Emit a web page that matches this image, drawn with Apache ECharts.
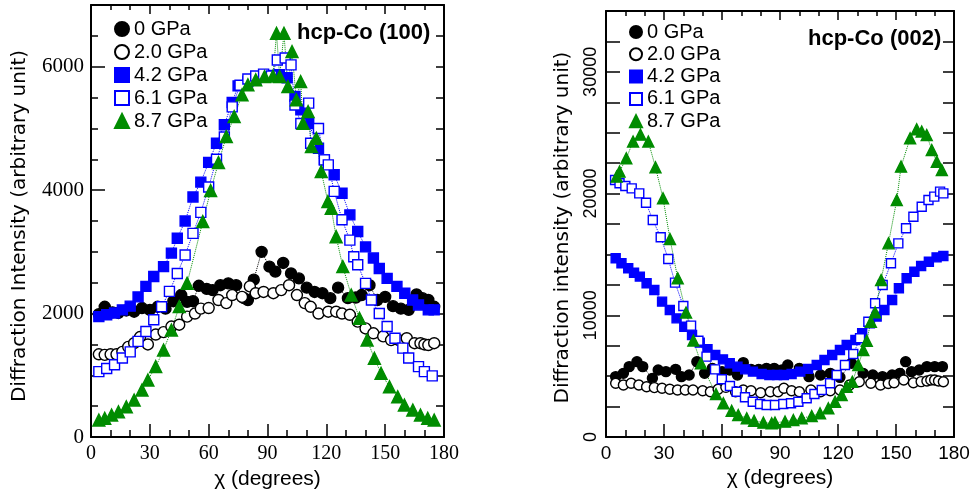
<!DOCTYPE html>
<html>
<head>
<meta charset="utf-8">
<script src="https://cdn.jsdelivr.net/npm/echarts@6/dist/echarts.min.js"></script>
<style>
  html, body { margin: 0; background: #fff; }
  #chart { width: 974px; height: 495px; }
</style>
</head>
<body>
<div id="chart"></div>
<script>
// pressures, shared by both panels
const pressures = ['0 GPa', '2.0 GPa', '4.2 GPa', '6.1 GPa', '8.7 GPa']

// ---- hcp-Co (100), left panel ----
const a0x = [4, 7, 11, 14, 18, 22, 26, 30, 34, 38, 42, 46, 49, 52, 55, 59, 62, 66, 70, 74, 78, 80, 83, 87, 91, 94, 98, 102, 106, 110, 114, 118, 122, 126, 131, 135, 138, 142, 146, 150, 154, 158, 162, 166, 169, 172, 175]
const a0y = [1990, 2110, 2020, 2010, 2050, 2030, 2090, 2060, 2110, 2080, 2200, 2300, 2190, 2200, 2450, 2400, 2380, 2460, 2490, 2460, 2250, 2220, 2550, 3000, 2760, 2680, 2820, 2650, 2570, 2420, 2350, 2330, 2250, 2420, 2250, 2260, 2300, 2460, 2220, 2270, 2120, 2080, 2060, 2310, 2250, 2220, 2110]

const a2x = [4, 7, 10, 13, 16, 19, 22, 25, 29, 33, 37, 41, 45, 49, 53, 56, 60, 65, 69, 72, 77, 81, 84, 88, 93, 97, 101, 105, 109, 112, 116, 121, 125, 128, 132, 136, 140, 144, 149, 153, 157, 161, 165, 168, 170, 172, 175]
const a2y = [1340, 1330, 1340, 1340, 1380, 1460, 1520, 1620, 1500, 1660, 1700, 1790, 1820, 1950, 2000, 2080, 2090, 2220, 2170, 2300, 2270, 2440, 2330, 2350, 2330, 2380, 2460, 2300, 2170, 2110, 2000, 2030, 2030, 2000, 1980, 1870, 1760, 1680, 1630, 1570, 1570, 1600, 1520, 1520, 1500, 1490, 1520]

const a4x = [4, 8, 12, 16, 20, 24, 28, 32, 37, 41, 44, 48, 52, 56, 60, 64, 68, 72, 75, 80, 84, 88, 92, 96, 100, 104, 107, 111, 116, 119, 124, 128, 132, 136, 140, 144, 147, 151, 156, 160, 164, 167, 172, 175]
const a4y = [1950, 1980, 2010, 2060, 2120, 2270, 2440, 2600, 2760, 2980, 3220, 3500, 3890, 4130, 4450, 4760, 5060, 5420, 5690, 5760, 5790, 5840, 5860, 5870, 5820, 5520, 5300, 5080, 4680, 4490, 4250, 3950, 3600, 3330, 3080, 2900, 2730, 2570, 2440, 2330, 2220, 2140, 2060, 2060]

const a6x = [4, 8, 12, 16, 20, 24, 28, 32, 36, 40, 44, 48, 52, 56, 60, 64, 68, 72, 76, 80, 84, 88, 92, 95, 99, 102, 104, 107, 111, 112, 116, 119, 121, 124, 128, 132, 134, 136, 140, 143, 147, 151, 155, 159, 162, 167, 170, 174]
const a6y = [1060, 1110, 1170, 1280, 1380, 1550, 1710, 1900, 2110, 2360, 2650, 2950, 3300, 3640, 4050, 4500, 4860, 5350, 5700, 5800, 5850, 5880, 5850, 6110, 6140, 6030, 5380, 5080, 5410, 4760, 5000, 4490, 4410, 3980, 3520, 3190, 2920, 2790, 2490, 2220, 2000, 1790, 1600, 1440, 1280, 1140, 1060, 990]

const a8x = [4, 7, 10.5, 14, 18, 22, 26, 29, 33, 37, 41, 45, 49, 57, 61, 65, 69, 73, 77, 80, 84, 88.5, 92.8, 94.6, 96.2, 98.4, 100.4, 102.5, 104.7, 106.9, 108.1, 110.7, 112.4, 114.9, 117.4, 120.8, 122.5, 125, 128.4, 132.7, 136.9, 140.8, 144.5, 147.9, 152.2, 156.4, 159.8, 164.1, 168, 171.7, 175]
const a8y = [275, 303, 357, 410, 491, 600, 762, 924, 1140, 1410, 1734, 2112, 2491, 3490, 3992, 4446, 4867, 5191, 5543, 5705, 5786, 5840, 5850, 6540, 5840, 6540, 5677, 6244, 5462, 5759, 5084, 5272, 4705, 4841, 4300, 3814, 3706, 3246, 2760, 2301, 1924, 1572, 1275, 1032, 815, 653, 519, 438, 357, 303, 275]

// ---- hcp-Co (002), right panel ----
const b0x = [5, 9, 12, 16, 19, 24, 27, 31, 36, 39, 43, 47, 51, 55, 60, 64, 68, 71, 75, 79, 83, 87, 91, 94, 100, 105, 111, 116, 121, 127, 133, 138, 143, 148, 152, 155, 158, 162, 166, 170, 174]
const b0y = [4960, 5230, 5780, 6190, 5780, 4820, 5500, 5370, 5560, 4960, 5090, 6190, 5230, 5640, 5370, 5500, 5090, 6110, 5560, 5560, 5640, 5640, 5500, 5920, 5640, 4960, 5090, 5230, 4900, 6060, 5230, 5090, 4960, 5090, 5230, 6190, 5370, 5500, 5780, 5780, 5780]

const b2x = [5, 9, 13, 17, 21, 25, 29, 33, 37, 41, 45, 50, 54, 58, 62, 67, 71, 75, 80, 85, 89, 92, 96, 100, 106, 111, 116, 121, 126, 131, 137, 142, 146, 149, 154, 159, 163, 166, 168, 170, 172, 174.5]
const b2y = [4410, 4270, 4410, 4270, 4130, 4060, 4000, 3920, 3860, 3860, 3860, 3800, 3720, 3920, 4080, 3720, 3860, 3800, 3640, 3720, 3720, 4000, 3800, 3720, 3860, 3720, 3800, 3860, 4270, 4540, 4410, 4270, 4400, 4460, 4680, 4460, 4550, 4600, 4680, 4680, 4600, 4540]

const b4x = [5, 8, 11.5, 14.5, 17.5, 21, 25, 29, 33, 36.5, 40.5, 44.5, 48.5, 52.5, 56.5, 60.5, 64, 68, 72, 76, 80.5, 84.5, 88.5, 92, 96, 100.5, 104.5, 109, 113, 117, 121, 124.5, 129, 132.5, 136.5, 140, 144, 148, 151.5, 155.5, 159.5, 163, 167, 171, 174.5]
const b4y = [14680, 14270, 13860, 13500, 13180, 12630, 12080, 11120, 10440, 9750, 9060, 8380, 7750, 7210, 6740, 6380, 6060, 5780, 5560, 5370, 5180, 5090, 5090, 5090, 5180, 5370, 5600, 5920, 6330, 6740, 7150, 7560, 7970, 8520, 9340, 9890, 10440, 11260, 12220, 13040, 13580, 14050, 14400, 14760, 14870]

const b6x = [4.7, 7, 10, 13.3, 17.2, 20.7, 24.2, 28.3, 32.2, 35.7, 40, 44, 47.8, 52, 56.4, 59.9, 64.1, 67.6, 71.9, 75.9, 79.7, 83.1, 87.4, 91.7, 95.7, 99.5, 103.8, 107.8, 111.6, 115.9, 119.3, 123.6, 127.9, 131.4, 135.7, 139.2, 143.1, 147.4, 151.2, 155.2, 159, 163.3, 166.8, 169.8, 172.8, 174.5]
const b6y = [21120, 20850, 20620, 20430, 20020, 19250, 17830, 16410, 14630, 12680, 10760, 9150, 7910, 6600, 5560, 4740, 4190, 3720, 3260, 2900, 2710, 2630, 2630, 2710, 2770, 2900, 3180, 3530, 3860, 4410, 5090, 5920, 6820, 8110, 9470, 10990, 12490, 14270, 15910, 17150, 18100, 18920, 19470, 19750, 20160, 20020]

const b8x = [5.5, 7, 10.5, 14, 17.8, 21.9, 25.6, 29.5, 33.1, 37.1, 41.4, 45.2, 49.1, 56.9, 60.7, 65, 68.4, 72.8, 76.6, 81.4, 85.7, 87.4, 92.6, 96.9, 101.2, 106.4, 110.7, 115, 118.5, 121.9, 124.5, 127.4, 130.5, 133.1, 134.9, 137, 139.2, 142.3, 146.1, 150.4, 152.6, 157.3, 160.7, 163.3, 165.9, 168.5, 171.1, 173.7]
const b8y = [21390, 21800, 22900, 24270, 24840, 24270, 22160, 19610, 16270, 13040, 10220, 7920, 6060, 3530, 2770, 2160, 1810, 1540, 1340, 1180, 1130, 1180, 1260, 1400, 1540, 1730, 1950, 2360, 2900, 3450, 4130, 4540, 5920, 7150, 7910, 9470, 10250, 12900, 15910, 19470, 22210, 24540, 25280, 25090, 24810, 23580, 22620, 21940]

const panelA = [[a0x, a0y], [a2x, a2y], [a4x, a4y], [a6x, a6y], [a8x, a8y]]
const panelB = [[b0x, b0y], [b2x, b2y], [b4x, b4y], [b6x, b6y], [b8x, b8y]]

// marker look for each pressure
const BLUE = '#0000ff'
const GREEN = '#008c00'
const marks = [
  { symbol: 'circle', fill: '#000', stroke: '#000' },
  { symbol: 'circle', fill: '#fff', stroke: '#000' },
  { symbol: 'rect', fill: BLUE, stroke: BLUE },
  { symbol: 'rect', fill: '#fff', stroke: BLUE },
  { symbol: 'triangle', fill: GREEN, stroke: GREEN }
]

const zip = (xs, ys) => xs.map((x, i) => [x, ys[i]])

function panelSeries(panel, grid, sizes) {
  const lines = []
  const dots = []
  panel.forEach(([xs, ys], i) => {
    const m = marks[i]
    const data = zip(xs, ys)
    lines.push({
      type: 'line', name: pressures[i] + ' line', xAxisIndex: grid * 2, yAxisIndex: grid * 3,
      data, symbol: 'none', silent: true, z: 2,
      lineStyle: { color: m.stroke, width: 1, type: 'dotted' }
    })
    dots.push({
      type: 'scatter', name: pressures[i], xAxisIndex: grid * 2, yAxisIndex: grid * 3,
      data, symbol: m.symbol, symbolSize: sizes[m.symbol], z: 3,
      itemStyle: { color: m.fill, borderColor: m.stroke, borderWidth: 1.4, opacity: 1 }
    })
  })
  return lines.concat(dots)
}

const black = { color: '#000' }
const tickStyle = { color: '#000', width: 1.5 }
const frame = { show: true, onZero: false, lineStyle: { color: '#000', width: 2 } }

function xAxes(grid, font, size) {
  const base = {
    gridIndex: grid, type: 'value', min: 0, max: 180, interval: 30,
    axisLine: frame,
    splitLine: { show: false }
  }
  return [
    {
      ...base, position: 'bottom',
      axisTick: { inside: true, length: 13, lineStyle: tickStyle },
      minorTick: { show: true, splitNumber: 3, length: 7, lineStyle: tickStyle },
      axisLabel: { ...black, fontFamily: font, fontSize: size, margin: 7 },
      name: 'χ (degrees)', nameLocation: 'middle', nameGap: 27,
      nameTextStyle: { ...black, fontFamily: 'Liberation Sans', fontSize: 21 }
    },
    {
      ...base, position: 'top',
      axisTick: { inside: true, length: 9, lineStyle: tickStyle },
      minorTick: { show: true, splitNumber: 3, length: 5, lineStyle: tickStyle },
      axisLabel: { show: false }
    }
  ]
}

const option = {
  animation: false,
  backgroundColor: '#fff',
  grid: [
    { left: 91, top: 5, width: 353, height: 432 },
    { left: 606, top: 11, width: 348, height: 426 }
  ],
  title: [
    { text: 'hcp-Co (100)', left: 297, top: 22, padding: 0,
      textStyle: { ...black, fontFamily: 'Liberation Sans', fontWeight: 'bold', fontSize: 22 } },
    { text: 'hcp-Co (002)', left: 808, top: 28, padding: 0,
      textStyle: { ...black, fontFamily: 'Liberation Sans', fontWeight: 'bold', fontSize: 22 } }
  ],
  legend: [
    { data: pressures.map((p) => ({ name: p })), orient: 'vertical', left: 114, top: 19, padding: 0,
      itemWidth: 14, itemHeight: 14, itemGap: 3, itemTextGap: 8, selectedMode: false,
      textStyle: { ...black, fontFamily: 'Liberation Sans', fontSize: 20, lineHeight: 20 } },
    { data: pressures.map((p) => ({ name: p })), orient: 'vertical', left: 629, top: 22, padding: 0,
      itemWidth: 12, itemHeight: 12, itemGap: 2.3, itemTextGap: 7, selectedMode: false,
      textStyle: { ...black, fontFamily: 'Liberation Sans', fontSize: 20, lineHeight: 20 } }
  ],
  xAxis: [...xAxes(0, 'Liberation Serif', 20), ...xAxes(1, 'Liberation Sans', 19)],
  yAxis: [
    // left panel: labelled major ticks, minor ticks, mirrored right side
    {
      gridIndex: 0, type: 'value', position: 'left', min: 0, max: 7000, interval: 2000,
      axisLine: frame,
      axisTick: { inside: true, length: 14, lineStyle: tickStyle },
      splitLine: { show: false },
      axisLabel: { ...black, fontFamily: 'Liberation Serif', fontSize: 21, margin: 7,
        formatter: (v) => (v > 6000 ? '' : String(v)) },
      name: 'Diffraction Intensity (arbitrary unit)', nameLocation: 'middle', nameGap: 61,
      nameTextStyle: { ...black, fontFamily: 'DejaVu Sans', fontSize: 20, padding: [0, 10, 0, 0] }
    },
    {
      gridIndex: 0, type: 'value', position: 'left', min: 0, max: 7000, interval: 500,
      axisLine: { show: false, onZero: false }, axisLabel: { show: false }, splitLine: { show: false },
      axisTick: { inside: true, length: 7, lineStyle: tickStyle }
    },
    {
      gridIndex: 0, type: 'value', position: 'right', min: 0, max: 7000, interval: 500,
      axisLine: frame,
      axisLabel: { show: false }, splitLine: { show: false },
      axisTick: { inside: true, length: 8, lineStyle: tickStyle }
    },
    // right panel
    {
      gridIndex: 1, type: 'value', position: 'left', min: 0, max: 35000, interval: 2500,
      axisLine: frame,
      axisTick: { inside: true, length: 14, lineStyle: tickStyle },
      splitLine: { show: false },
      axisLabel: { ...black, fontFamily: 'Liberation Sans', fontSize: 18, margin: 6, rotate: 90,
        formatter: (v) => (v % 10000 === 0 ? String(v) : '') },
      name: 'Diffraction intensity (arbitrary unit)', nameLocation: 'middle', nameGap: 33,
      nameTextStyle: { ...black, fontFamily: 'DejaVu Sans', fontSize: 20, padding: [0, 7, 0, 0] }
    },
    {
      gridIndex: 1, type: 'value', position: 'right', min: 0, max: 35000, interval: 2500,
      axisLine: frame,
      axisLabel: { show: false }, splitLine: { show: false },
      axisTick: { inside: true, length: 11, lineStyle: tickStyle }
    }
  ],
  series: [
    ...panelSeries(panelA, 0, { circle: 11, rect: 10, triangle: 12 }),
    ...panelSeries(panelB, 1, { circle: 10, rect: 9, triangle: 11 })
  ]
}

const chart = echarts.init(document.getElementById('chart'))
chart.setOption(option)
</script>
</body>
</html>
